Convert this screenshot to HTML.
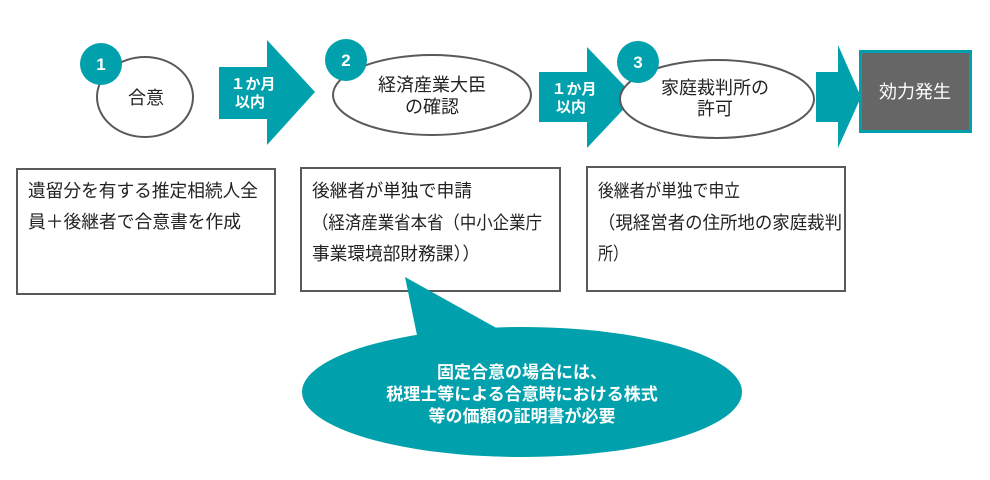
<!DOCTYPE html>
<html><head><meta charset="utf-8"><style>
html,body{margin:0;padding:0;background:#fff;}
svg{display:block;font-family:"Liberation Sans","Noto Sans CJK JP",sans-serif;}
</style></head><body>
<svg width="990" height="480" viewBox="0 0 990 480" xmlns="http://www.w3.org/2000/svg">
<!-- step 1 -->
<ellipse cx="145" cy="97" rx="48" ry="40" fill="#fff" stroke="#595959" stroke-width="2"/>
<circle cx="101" cy="64" r="21" fill="#00A0AC"/>
<text x="101" y="70" font-size="17" font-weight="bold" fill="#fff" text-anchor="middle">1</text>
<text x="146" y="104" font-size="18" fill="#222" text-anchor="middle">合意</text>
<!-- arrow 1 -->
<polygon points="219,67 267,67 267,40 315,92 267,145 267,119 219,119" fill="#00A0AC"/>
<text x="253" y="89" font-size="15" font-weight="bold" fill="#fff" text-anchor="middle">１か月</text>
<text x="250" y="107" font-size="15" font-weight="bold" fill="#fff" text-anchor="middle">以内</text>
<!-- step 2 -->
<ellipse cx="432" cy="95" rx="99" ry="40" fill="#fff" stroke="#595959" stroke-width="2"/>
<circle cx="346" cy="60" r="21" fill="#00A0AC"/>
<text x="346" y="66" font-size="17" font-weight="bold" fill="#fff" text-anchor="middle">2</text>
<text x="432" y="91" font-size="18" fill="#222" text-anchor="middle">経済産業大臣</text>
<text x="432" y="113" font-size="18" fill="#222" text-anchor="middle">の確認</text>
<!-- arrow 2 -->
<polygon points="539,72 587,72 587,47 635,97 587,148 587,122 539,122" fill="#00A0AC"/>
<text x="574" y="94" font-size="15" font-weight="bold" fill="#fff" text-anchor="middle">１か月</text>
<text x="571" y="112" font-size="15" font-weight="bold" fill="#fff" text-anchor="middle">以内</text>
<!-- step 3 -->
<ellipse cx="717" cy="99" rx="97" ry="39" fill="#fff" stroke="#595959" stroke-width="2"/>
<circle cx="638" cy="62" r="21" fill="#00A0AC"/>
<text x="638" y="68" font-size="17" font-weight="bold" fill="#fff" text-anchor="middle">3</text>
<text x="715" y="94" font-size="18" fill="#222" text-anchor="middle">家庭裁判所の</text>
<text x="715" y="115" font-size="18" fill="#222" text-anchor="middle">許可</text>
<!-- arrow 3 -->
<polygon points="816,72 838,72 838,45 861,97 838,148 838,122 816,122" fill="#00A0AC"/>
<!-- result box -->
<rect x="860.5" y="51.5" width="110" height="80" fill="#666" stroke="#00A0AC" stroke-width="3"/>
<text x="915" y="98" font-size="18" fill="#fff" text-anchor="middle">効力発生</text>
<!-- text boxes -->
<rect x="17" y="169" width="258" height="125" fill="#fff" stroke="#595959" stroke-width="2"/>
<text x="28" y="197" font-size="18" fill="#222" textLength="230" lengthAdjust="spacingAndGlyphs">遺留分を有する推定相続人全</text>
<text x="28" y="228" font-size="18" fill="#222" textLength="213" lengthAdjust="spacingAndGlyphs">員＋後継者で合意書を作成</text>
<rect x="301" y="168" width="259" height="123" fill="#fff" stroke="#595959" stroke-width="2"/>
<text x="312" y="197" font-size="18" fill="#222" textLength="160" lengthAdjust="spacingAndGlyphs">後継者が単独で申請</text>
<text x="312" y="229" font-size="18" fill="#222" textLength="230" lengthAdjust="spacingAndGlyphs">（経済産業省本省（中小企業庁</text>
<text x="312" y="260" font-size="18" fill="#222" textLength="168" lengthAdjust="spacingAndGlyphs">事業環境部財務課））</text>
<rect x="587" y="167" width="258" height="124" fill="#fff" stroke="#595959" stroke-width="2"/>
<text x="598" y="197" font-size="18" fill="#222" textLength="142" lengthAdjust="spacingAndGlyphs">後継者が単独で申立</text>
<text x="598" y="229" font-size="18" fill="#222" textLength="244" lengthAdjust="spacingAndGlyphs">（現経営者の住所地の家庭裁判</text>
<text x="598" y="260" font-size="18" fill="#222" textLength="30" lengthAdjust="spacingAndGlyphs">所）</text>
<!-- callout -->
<polygon points="405,277 418,340 500,330" fill="#00A0AC"/>
<ellipse cx="522" cy="392" rx="220" ry="65" fill="#00A0AC"/>
<text x="522" y="378" font-size="17" font-weight="bold" fill="#fff" text-anchor="middle">固定合意の場合には、</text>
<text x="522" y="400" font-size="17" font-weight="bold" fill="#fff" text-anchor="middle">税理士等による合意時における株式</text>
<text x="522" y="422" font-size="17" font-weight="bold" fill="#fff" text-anchor="middle">等の価額の証明書が必要</text>
</svg>
</body></html>
